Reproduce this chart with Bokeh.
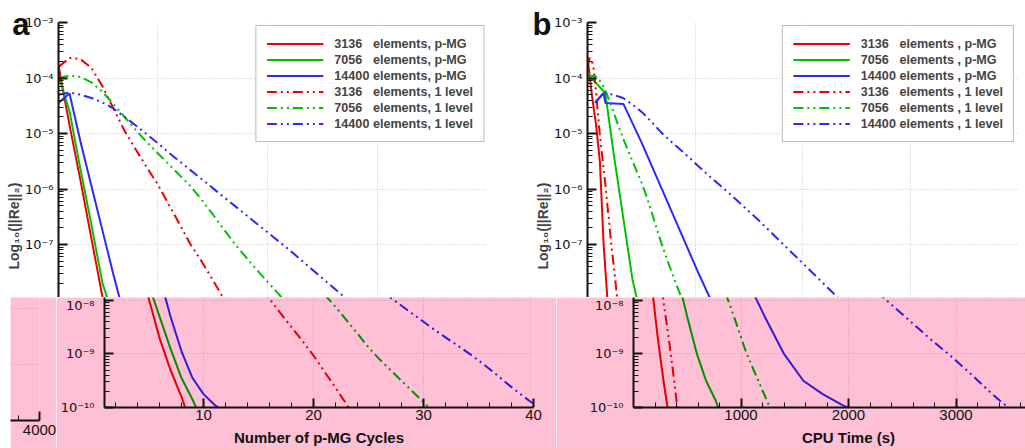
import math
from bokeh.plotting import figure
from bokeh.models import (Range1d, FixedTicker, CustomJSTickFormatter, Legend, LegendItem,
                          Title, Spacer, LogAxis, LinearAxis, Grid)
from bokeh.layouts import row, column
from bokeh.embed import file_html
from bokeh.resources import INLINE

# ---------------- data: exponent of ||Re||2 (log10) ----------------
# (a) versus number of p-MG cycles
cyc_3136_pmg = [1, 2, 3, 4, 5, 6, 7, 8, 9]
log_3136_pmg = [-3.78, -4.85, -5.85, -6.90, -7.95, -8.70, -9.30, -9.80, -10.40]
cyc_7056_pmg = [1, 2, 3, 4, 5, 6, 7, 8, 9, 10]
log_7056_pmg = [-3.95, -4.60, -5.65, -6.65, -7.70, -8.30, -8.90, -9.45, -9.85, -10.30]
cyc_14400_pmg = [1, 2, 3, 4, 5, 6, 7, 8, 9, 10, 11, 12]
log_14400_pmg = [-4.45, -4.28, -5.15, -5.95, -6.75, -7.55, -8.30, -8.95, -9.45, -9.75, -9.95, -10.10]

cyc_3136_1lv = list(range(1, 25))
log_3136_1lv = [-3.80, -3.64, -3.66, -3.82, -4.15, -4.55, -4.95, -5.28, -5.60, -5.91, -6.27, -6.63,
                -7.00, -7.30, -7.63, -7.97, -8.24, -8.50, -8.76, -9.03, -9.33, -9.63, -9.94, -10.25]
cyc_7056_1lv = list(range(1, 32))
log_7056_1lv = [-4.00, -3.96, -3.98, -4.08, -4.25, -4.47, -4.70, -4.93, -5.15, -5.35, -5.55, -5.75,
                -5.95, -6.19, -6.45, -6.72, -6.98, -7.22, -7.45, -7.67, -7.89, -8.12, -8.37, -8.62,
                -8.88, -9.10, -9.30, -9.50, -9.70, -9.90, -10.10]
cyc_14400_1lv = list(range(1, 41))
log_14400_1lv = [-4.30, -4.26, -4.30, -4.36, -4.44, -4.55, -4.70, -4.85, -5.01, -5.17, -5.34, -5.50,
                 -5.66, -5.82, -5.98, -6.14, -6.30, -6.46, -6.62, -6.78, -6.94, -7.10, -7.27, -7.44,
                 -7.61, -7.78, -7.95, -8.10, -8.25, -8.40, -8.55, -8.69, -8.83, -8.97, -9.12, -9.28,
                 -9.45, -9.62, -9.78, -9.93]

# (b) versus CPU time (s)
cpu_3136_pmg = [0, 40, 80, 115, 150, 185, 220, 255, 290, 325]
logb_3136_pmg = [-3.62, -4.30, -4.85, -5.50, -7.00, -7.98, -8.60, -9.15, -9.65, -10.10]
cpu_7056_pmg = [0, 85, 165, 250, 335, 420, 505, 590, 675, 760, 845]
logb_7056_pmg = [-3.95, -4.10, -4.27, -5.45, -6.55, -7.65, -8.35, -9.00, -9.50, -9.85, -10.30]
cpu_14400_pmg = [74, 149, 167, 335, 500, 680, 860, 1040, 1220, 1400, 1580, 1760, 1940, 2120]
logb_14400_pmg = [-4.44, -4.27, -4.45, -4.47, -5.15, -5.95, -6.75, -7.55, -8.30, -9.00, -9.50,
                  -9.75, -9.95, -10.12]

cpu_3136_1lv = [0, 20, 38, 56, 75, 93, 111, 129, 148, 166, 184, 203, 221, 239, 258, 276, 294,
                313, 331, 349, 368, 386, 404, 423]
logb_3136_1lv = log_3136_1lv
cpu_7056_1lv = [0, 43, 86, 129, 172, 215, 258, 301, 344, 387, 430, 473, 516, 559, 602, 645, 688,
                731, 774, 817, 860, 903, 946, 989, 1032, 1075, 1118, 1161, 1204, 1247, 1290]
logb_7056_1lv = log_7056_1lv
cpu_14400_1lv = [70, 150, 240, 330, 420, 510, 600, 690, 780, 870, 960, 1050, 1140, 1230, 1320,
                 1410, 1500, 1590, 1680, 1770, 1860, 1950, 2040, 2130, 2220, 2310, 2400, 2490,
                 2580, 2670, 2760, 2850, 2940, 3030, 3120, 3210, 3300, 3390, 3480, 3570]
logb_14400_1lv = [-4.45, -4.27, -4.30, -4.36, -4.48, -4.62, -4.80, -4.99, -5.15, -5.30, -5.46,
                  -5.62, -5.78, -5.93, -6.08, -6.24, -6.40, -6.56, -6.73, -6.90, -7.07, -7.24,
                  -7.41, -7.58, -7.75, -7.92, -8.08, -8.24, -8.40, -8.56, -8.72, -8.87, -9.02,
                  -9.18, -9.34, -9.51, -9.68, -9.84, -9.99, -10.15]

labels_a = ["3136\u2007 elements, p-MG", "7056\u2007 elements, p-MG", "14400 elements, p-MG",
            "3136\u2007 elements, 1 level", "7056\u2007 elements, 1 level", "14400 elements, 1 level"]
labels_b = ["3136\u2007 elements , p-MG", "7056\u2007 elements , p-MG", "14400 elements , p-MG",
            "3136\u2007 elements , 1 level", "7056\u2007 elements , 1 level", "14400 elements , 1 level"]

x_ticks_a = [10, 20, 30, 40]
x_ticks_b = [1000, 2000, 3000, 4000]
y_title = "Log\u2081\u2080(||Re||\u2082)"
x_title_a = "Number of p-MG Cycles"
x_title_b = "CPU Time (s)"

# ---------------- styling ----------------
FONT = "Liberation Sans"
TICK_FONT_Y = "DejaVu Sans"
PINK = "#ffbfd4"
DASH = "10 4 2 4 2 4"
COL_TOP = ["#ee0000", "#00c000", "#2a2aff"]
COL_PINK = ["#e40000", "#009000", "#2a1ed6"]
GRID_TOP = "#c4c4c4"
GRID_PINK = "#d79aae"

Y_MAJOR = [10.0 ** e for e in range(-10, -2)]
Y_MINOR = [k * 10.0 ** e for e in range(-11, -2) for k in range(2, 10)]

fmt = CustomJSTickFormatter(code="""
const sup = {"-":"\u207b","0":"\u2070","1":"\u00b9","2":"\u00b2","3":"\u00b3","4":"\u2074",
             "5":"\u2075","6":"\u2076","7":"\u2077","8":"\u2078","9":"\u2079"};
const e = Math.round(Math.log10(tick));
let s = "";
for (const c of String(e)) { s += sup[c]; }
return "10" + s;
""")


def base_fig(W, H, left, right, top, bottom, xr, yr, bg):
    p = figure(width=W, height=H, x_range=Range1d(*xr), y_range=Range1d(*yr),
               y_axis_type="log", x_axis_location=None, y_axis_location=None,
               output_backend="svg", toolbar_location=None,
               min_border_left=left, min_border_right=right,
               min_border_top=top, min_border_bottom=bottom,
               background_fill_color=bg, border_fill_color=bg, outline_line_color=None)
    p.grid.visible = False
    return p


def add_grids(p, xt, color):
    p.add_layout(Grid(dimension=0, ticker=FixedTicker(ticks=xt), grid_line_color=color,
                      grid_line_dash="1 2", grid_line_width=1))
    p.add_layout(Grid(dimension=1, ticker=FixedTicker(ticks=Y_MAJOR), grid_line_color=color,
                      grid_line_dash="1 2", grid_line_width=1))


def style_axis(ax, font, fs, standoff):
    ax.axis_line_width = 2
    ax.axis_line_color = "#111111"
    ax.major_tick_in = 9
    ax.major_tick_out = 0
    ax.minor_tick_in = 5
    ax.minor_tick_out = 0
    ax.major_tick_line_width = 2
    ax.major_tick_line_color = "#111111"
    ax.minor_tick_line_width = 1
    ax.minor_tick_line_color = "#111111"
    ax.major_label_text_font = font
    ax.major_label_text_font_size = fs
    ax.major_label_text_color = "#111111"
    ax.major_label_standoff = standoff


def add_y_axis(p, standoff):
    ax = LogAxis(ticker=FixedTicker(ticks=Y_MAJOR, minor_ticks=Y_MINOR), formatter=fmt)
    style_axis(ax, TICK_FONT_Y, "13px", standoff)
    p.add_layout(ax, "left")


def add_x_axis(p, ticks, minor, standoff):
    ax = LinearAxis(ticker=FixedTicker(ticks=ticks, minor_ticks=minor))
    style_axis(ax, FONT, "15px", standoff)
    p.add_layout(ax, "below")


def text_axis(cls, tick, text, size, standoff):
    # an axis without line or ticks that only carries one text label
    return cls(ticker=FixedTicker(ticks=[tick]),
               formatter=CustomJSTickFormatter(code="return %r;" % text),
               axis_line_color=None, major_tick_line_color=None, minor_tick_line_color=None,
               major_label_standoff=standoff,
               major_label_text_font=FONT, major_label_text_font_style="bold",
               major_label_text_font_size=size, major_label_text_color="#111111")


def add_y_title(p, offset):
    # align="left" on a left panel: text starts at (panel bottom - offset) and runs upward
    p.add_layout(Title(text=y_title, align="left", offset=offset, standoff=0,
                       text_font=FONT, text_font_style="bold", text_font_size="14px"), "left")


def draw(p, series, colors):
    rs = []
    for i, (xs, ls) in enumerate(series):
        col = colors[i % 3]
        dash = "solid" if i < 3 else DASH
        r = p.line(xs, [10.0 ** v for v in ls], line_color=col, line_width=2, line_dash=dash)
        rs.append(r)
    return rs


series_a = [(cyc_3136_pmg, log_3136_pmg), (cyc_7056_pmg, log_7056_pmg), (cyc_14400_pmg, log_14400_pmg),
            (cyc_3136_1lv, log_3136_1lv), (cyc_7056_1lv, log_7056_1lv), (cyc_14400_1lv, log_14400_1lv)]
series_b = [(cpu_3136_pmg, logb_3136_pmg), (cpu_7056_pmg, logb_7056_pmg), (cpu_14400_pmg, logb_14400_pmg),
            (cpu_3136_1lv, logb_3136_1lv), (cpu_7056_1lv, logb_7056_1lv), (cpu_14400_1lv, logb_14400_1lv)]

minor_a = [v for v in range(2, 40, 2) if v % 10]
minor_b = [v for v in range(200, 4000, 200) if v % 1000]

# ---------------- layout geometry (page pixels) ----------------
TOTAL_W, TOTAL_H = 1025, 448
H1 = 297
H2 = TOTAL_H - H1
DEC_TOP = 55.5
DEC_BOT = 56.0
PX_B = 0.1075
top_b = 22
y_lo_top = 10 ** (-3 - (H1 - top_b) / DEC_TOP)
letter_tick = 10 ** (-3 - 1.5 / DEC_TOP)
ytitle_offset = H1 - 269

# ---- top row ----
WA = 510
pa = base_fig(WA, H1, 58, WA - 487, top_b, 0, (1, 40), (y_lo_top, 1e-3), "white")
add_grids(pa, x_ticks_a, GRID_TOP)
add_y_axis(pa, 5)
add_y_title(pa, ytitle_offset)
pa.add_layout(text_axis(LogAxis, letter_tick, "a", "31px", -32), "left")
rs_a = draw(pa, series_a, COL_TOP)

WB = TOTAL_W - WA
pb = base_fig(WB, H1, 587 - WA, TOTAL_W - 1017, top_b, 0, (0, 4000), (y_lo_top, 1e-3), "white")
add_grids(pb, x_ticks_b, GRID_TOP)
add_y_axis(pb, 5)
add_y_title(pb, ytitle_offset)
pb.add_layout(text_axis(LogAxis, letter_tick, "b", "31px", -25), "left")
rs_b = draw(pb, series_b, COL_TOP)

for p, rs, labs in ((pa, rs_a, labels_a), (pb, rs_b, labels_b)):
    leg = Legend(items=[LegendItem(label=l, renderers=[r]) for l, r in zip(labs, rs)],
                 location="top_right", margin=3, padding=10, spacing=1,
                 glyph_width=57, glyph_height=15, label_height=15, label_standoff=11,
                 label_text_font=FONT, label_text_font_style="bold", label_text_font_size="12.6px",
                 border_line_color="#7a7a7a", border_line_width=1.5, background_fill_alpha=1)
    p.add_layout(leg)

# ---- bottom (pink) row ----
SP = 10
WW = 56 - SP
w_frame_r = 39 - SP
w_frame_b = 420 - H1
pw = base_fig(WW, H2, 0, WW - w_frame_r, 0, H2 - w_frame_b,
              (4000 - w_frame_r / PX_B, 4000), (1e-10, 10 ** (-10 + w_frame_b / DEC_BOT)), PINK)
add_grids(pw, x_ticks_b, GRID_PINK)
add_x_axis(pw, x_ticks_b, minor_b, 4)
draw(pw, series_b, COL_PINK)

x0a = 56
WAB = 556 - x0a
ab_frame_b = 412 - H1
pab = base_fig(WAB, H2, 104 - x0a, 556 - 533, 0, H2 - ab_frame_b,
               (1, 40), (1e-10, 10 ** (-10 + ab_frame_b / DEC_BOT)), PINK)
add_grids(pab, x_ticks_a, GRID_PINK)
add_y_axis(pab, 10)
add_x_axis(pab, x_ticks_a, minor_a, 2)
pab.add_layout(text_axis(LinearAxis, 20.5, x_title_a, "15px", 0), "below")
draw(pab, series_a, COL_PINK)

x0b = 556
WBB = TOTAL_W - x0b
bb_left = 633 - x0b
pbb = base_fig(WBB, H2, bb_left, 0, 0, H2 - ab_frame_b,
               (0, (WBB - bb_left) / PX_B), (1e-10, 10 ** (-10 + ab_frame_b / DEC_BOT)), PINK)
add_grids(pbb, x_ticks_b, GRID_PINK)
add_y_axis(pbb, 10)
add_x_axis(pbb, x_ticks_b, minor_b, 2)
pbb.add_layout(text_axis(LinearAxis, 2000, x_title_b, "15px", 0), "below")
draw(pbb, series_b, COL_PINK)

layout = column(row(pa, pb), row(Spacer(width=SP, height=H2), column(pw), pab, pbb))

open("out.html", "w").write(file_html(layout, INLINE))
